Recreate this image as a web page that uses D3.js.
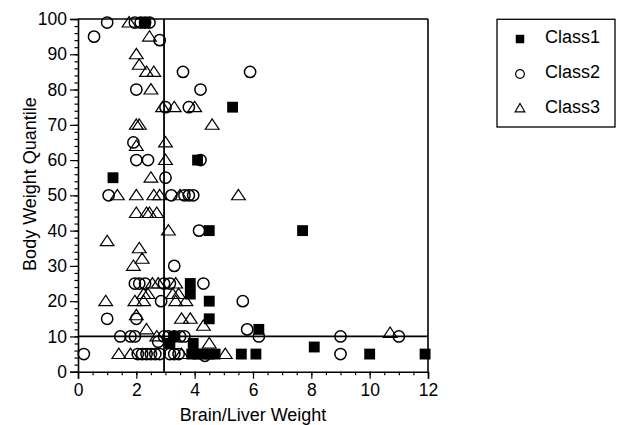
<!DOCTYPE html>
<html>
<head>
<meta charset="utf-8">
<script src="https://cdn.jsdelivr.net/npm/d3@7"></script>
<style>
  html, body { margin: 0; padding: 0; background: #fff; }
  svg { display: block; font-family: "Liberation Sans", Arial, Helvetica, sans-serif; }
</style>
</head>
<body>
<script>
// ---- data (x = Brain/Liver Weight, y = Body Weight Quantile) ----
const class1 = [
  [2.3, 99], [1.2, 55], [5.3, 75], [4.1, 60], [4.5, 40], [7.7, 40],
  [3.85, 25], [3.85, 22], [4.5, 20], [4.5, 15], [6.2, 12], [3.15, 8],
  [3.3, 10], [3.95, 8], [8.1, 7], [3.9, 5], [4.1, 5], [4.3, 5], [4.5, 5],
  [4.7, 5], [5.6, 5], [6.1, 5], [10.0, 5], [11.9, 5]
];
const class2 = [
  [0.55, 95], [1.0, 99], [1.95, 99], [2.15, 99], [2.3, 99], [2.45, 99],
  [2.8, 94], [3.6, 85], [5.9, 85], [2.0, 80], [4.2, 80], [3.0, 75],
  [3.8, 75], [1.9, 65], [2.0, 60], [2.4, 60], [4.2, 60], [3.0, 55],
  [1.05, 50], [3.2, 50], [3.65, 50], [3.8, 50], [3.95, 50], [4.15, 40],
  [3.3, 30], [1.95, 25], [2.1, 25], [2.3, 25], [2.95, 25], [3.15, 25],
  [4.3, 25], [2.85, 20], [5.65, 20], [1.0, 15], [2.0, 15], [5.8, 12],
  [6.2, 10], [1.45, 10], [1.8, 10], [1.95, 10], [2.95, 10], [3.1, 10],
  [3.3, 10], [3.5, 10], [3.65, 10], [2.75, 8.5], [9.0, 10], [11.0, 10],
  [0.2, 5], [2.05, 5], [2.2, 5], [2.35, 5], [2.5, 5], [2.65, 5], [2.8, 5],
  [3.15, 5], [3.3, 5], [3.45, 5], [4.35, 4.5], [9.0, 5]
];
const class3 = [
  [1.75, 99], [2.45, 95], [2.0, 90], [2.1, 87], [2.35, 85], [2.6, 85],
  [2.5, 80], [2.9, 75], [3.3, 75], [4.0, 75], [2.0, 70], [2.1, 70],
  [4.6, 70], [2.0, 64], [3.0, 65], [3.0, 60], [2.5, 55], [1.35, 50],
  [2.0, 50], [2.6, 50], [2.8, 50], [3.5, 50], [5.5, 50], [2.0, 45],
  [2.35, 45], [2.45, 45], [2.7, 45], [3.1, 40], [1.0, 37], [2.1, 35],
  [2.2, 32], [1.9, 30], [2.55, 25], [2.75, 25], [3.35, 25], [2.25, 22],
  [2.4, 22], [3.25, 22], [3.45, 22], [0.95, 20], [1.95, 20], [2.25, 20],
  [3.35, 20], [3.7, 20], [2.0, 16], [3.55, 15], [3.85, 15], [4.3, 13],
  [2.35, 12], [2.7, 10], [4.5, 8], [10.7, 11], [1.4, 5], [1.8, 5],
  [3.55, 5], [5.05, 5]
];
const classNames = ["Class1", "Class2", "Class3"];
const xTicks = [0, 2, 4, 6, 8, 10, 12];
const yTicks = [0, 10, 20, 30, 40, 50, 60, 70, 80, 90, 100];
const xCut = 2.95;   // vertical reference line
const yCut = 10;     // horizontal reference line

// ---- layout ----
const W = 617, H = 425;
const svg = d3.select("body").append("svg").attr("width", W).attr("height", H);

const x = d3.scaleLinear().domain([0, 12]).range([78, 428]);
const y = d3.scaleLinear().domain([0, 100]).range([371.7, 19]);

const fontTick = "17.5px";
const fontTitle = "18px";

// minor ticks
svg.append("g")
  .attr("transform", `translate(0,${y(0)})`)
  .call(d3.axisBottom(x).tickValues(d3.range(0, 12.01, 0.5)).tickSize(3.5).tickFormat(""))
  .call(g => g.select(".domain").remove());
svg.append("g")
  .attr("transform", `translate(${x(0)},0)`)
  .call(d3.axisLeft(y).tickValues(d3.range(0, 100.1, 2)).tickSize(3.5).tickFormat(""))
  .call(g => g.select(".domain").remove());

// major axes
const xAxis = svg.append("g")
  .attr("transform", `translate(0,${y(0)})`)
  .call(d3.axisBottom(x).tickValues(xTicks).tickSize(7).tickPadding(4).tickFormat(d3.format("d")));
const yAxis = svg.append("g")
  .attr("transform", `translate(${x(0)},0)`)
  .call(d3.axisLeft(y).tickValues(yTicks).tickSize(8).tickPadding(3).tickFormat(d3.format("d")));

[xAxis, yAxis].forEach(g => {
  g.selectAll("text").attr("font-size", fontTick).attr("fill", "#000")
    .attr("font-family", "'Liberation Sans', Arial, Helvetica, sans-serif");
  g.selectAll("line").attr("stroke", "#000").attr("stroke-width", 1.3);
  g.select(".domain").attr("stroke", "#000").attr("stroke-width", 1.6);
});
svg.selectAll("g line").attr("stroke", "#000").attr("stroke-width", 1.2);
xAxis.selectAll("text").attr("dy", "0.78em");

// frame top and right
svg.append("line").attr("x1", x(0)).attr("x2", x(12)).attr("y1", y(100)).attr("y2", y(100))
  .attr("stroke", "#000").attr("stroke-width", 1.6);
svg.append("line").attr("x1", x(12)).attr("x2", x(12)).attr("y1", y(100)).attr("y2", y(0))
  .attr("stroke", "#000").attr("stroke-width", 1.6);

// reference lines
svg.append("line").attr("x1", x(xCut)).attr("x2", x(xCut)).attr("y1", y(100)).attr("y2", y(0))
  .attr("stroke", "#000").attr("stroke-width", 1.8);
svg.append("line").attr("x1", x(0)).attr("x2", x(12)).attr("y1", y(yCut)).attr("y2", y(yCut))
  .attr("stroke", "#000").attr("stroke-width", 1.8);

// marker symbols
const symSquare = d3.symbol().type(d3.symbolSquare).size(118);
const symCircle = d3.symbol().type(d3.symbolCircle).size(100);
const symTri = d3.symbol().type(d3.symbolTriangle).size(62);

const pts = svg.append("g");
pts.selectAll(".c3").data(class3).join("path")
  .attr("d", symTri)
  .attr("transform", d => `translate(${x(d[0])},${y(d[1]) + 1}) scale(1.15,1)`)
  .attr("fill", "none").attr("stroke", "#000").attr("stroke-width", 1.1);
pts.selectAll(".c2").data(class2).join("path")
  .attr("d", symCircle)
  .attr("transform", d => `translate(${x(d[0])},${y(d[1])})`)
  .attr("fill", "none").attr("stroke", "#000").attr("stroke-width", 1.5);
pts.selectAll(".c1").data(class1).join("path")
  .attr("d", symSquare)
  .attr("transform", d => `translate(${x(d[0])},${y(d[1])})`)
  .attr("fill", "#000").attr("stroke", "none");

// axis titles
svg.append("text")
  .attr("x", (x(0) + x(12)) / 2).attr("y", 421)
  .attr("text-anchor", "middle").attr("font-size", fontTitle).attr("fill", "#000")
  .text("Brain/Liver Weight");
svg.append("text")
  .attr("transform", `translate(36,184) rotate(-90)`)
  .attr("text-anchor", "middle").attr("font-size", fontTitle).attr("fill", "#000")
  .text("Body Weight Quantile");

// legend
const leg = svg.append("g");
leg.append("rect").attr("x", 497).attr("y", 19.3).attr("width", 118).attr("height", 107.7)
  .attr("fill", "#fff").attr("stroke", "#000").attr("stroke-width", 1.3);
const legY = [39, 74, 109];
const legSyms = [
  d3.symbol().type(d3.symbolSquare).size(72),
  d3.symbol().type(d3.symbolCircle).size(60),
  d3.symbol().type(d3.symbolTriangle).size(40)
];
classNames.forEach((name, i) => {
  const p = leg.append("path").attr("d", legSyms[i])
    .attr("transform", `translate(520,${legY[i]})`);
  if (i === 0) p.attr("fill", "#000");
  else p.attr("fill", "none").attr("stroke", "#000").attr("stroke-width", 1.2);
  leg.append("text").attr("x", 545).attr("y", legY[i] + 3.5)
    .attr("font-size", fontTitle).attr("fill", "#000").text(name);
});
</script>
</body>
</html>
